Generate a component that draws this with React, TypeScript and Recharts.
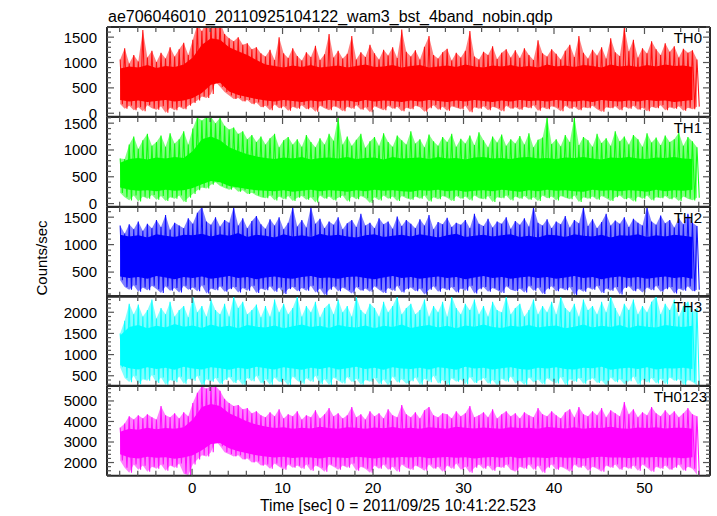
import React from "react";
import { ComposedChart, Area, Line, XAxis, YAxis } from "recharts";

// time grid of the sampled envelopes (sec from trigger)
const T_START = -7.95;
const T_STEP = 0.502;

const X_DOMAIN: [number, number] = [-9.4, 57.24];
const X_TICKS = [-8, -6, -4, -2, 0, 2, 4, 6, 8, 10, 12, 14, 16, 18, 20, 22, 24, 26, 28, 30, 32, 34, 36, 38, 40, 42, 44, 46, 48, 50, 52, 54, 56];
const X_LABELED = [0, 10, 20, 30, 40, 50];

// ---- TH0 ----
const TH0_HI = [
  1060, 1280, 980, 1150, 1020, 1640, 1100, 1230,
  1010, 1190, 1080, 1300, 1120, 1260, 1390, 1150,
  1450, 1750, 1620, 1800, 1800, 1780, 1800, 1560,
  1480, 1420, 1500, 1350, 1380, 1260, 1300, 1180,
  1120, 1250, 1050, 1500, 1180, 1090, 1280, 1130,
  1040, 1200, 1110, 1330, 1050, 1160, 1560, 1100,
  1230, 1080, 1170, 1520, 1060, 1200, 1110, 1350,
  1180, 1060, 1250, 1140, 1300, 1090, 1650, 1210,
  1120, 1240, 1060, 1310, 1520, 1150, 1080, 1200,
  1270, 1040, 1190, 1100, 1230, 1620, 1120, 1060,
  1210, 1150, 1320, 1070, 1190, 1260, 1100, 1240,
  1090, 1280, 1150, 1050, 1440, 1180, 1120, 1260,
  1170, 1060, 1230, 1350, 1110, 1520, 1190, 1080,
  1250, 1140, 1300, 1080, 1480, 1200, 1130, 1700,
  1220, 1450, 1100, 1280, 1180, 1420, 1260, 1150,
  1380, 1210, 1320, 1100, 1270, 1190, 1240, 1060,
];
const TH0_LO = [
  180, 90, 150, 60, 120, 40, 160, 100,
  70, 140, 10, 110, 60, 130, 80, 150,
  200, 250, 330, 300, 380, 620, 520, 420,
  350, 280, 300, 230, 260, 180, 210, 120,
  150, 60, 170, 100, 140, 50, 130, 90,
  160, 80, 120, 30, 150, 100, 60, 140,
  110, 40, 130, 90, 160, 70, 120, 20,
  140, 100, 60, 150, 90, 130, 40, 110,
  80, 150, 120, 30, 100, 160, 70, 130,
  50, 140, 110, 80, 150, 20, 120, 90,
  140, 60, 130, 100, 40, 150, 90, 120,
  70, 130, 100, 160, 50, 120, 80, 140,
  110, 40, 150, 90, 130, 60, 120, 100,
  150, 80, 30, 120, 100, 140, 60, 130,
  90, 150, 70, 110, 40, 130, 100, 160,
  60, 120, 90, 140, 50, 110, 80, 130,
];
const TH0_CORE_HI = [
  880, 920, 900, 950, 890, 930, 910, 960,
  1100, 1350, 1480, 1450, 1300, 1220, 1150, 1050,
  960, 930, 900, 940, 910, 950, 900, 920,
  940, 900, 930, 960, 910, 920, 950, 900,
  930, 950, 900, 920, 940, 910, 960, 920,
  900, 940, 920, 950, 910, 930, 900, 960,
  920, 940, 910, 950, 930, 900, 960, 920,
  940, 910, 950, 920, 960, 930, 940, 910,
];
const TH0_CORE_LO = [
  260, 230, 250, 220, 240, 260, 230, 250,
  300, 400, 560, 600, 430, 360, 320, 280,
  250, 230, 260, 240, 220, 250, 230, 260,
  240, 250, 220, 260, 230, 250, 240, 220,
  250, 230, 260, 240, 220, 250, 230, 260,
  240, 220, 250, 230, 260, 240, 250, 230,
  260, 240, 230, 250, 220, 260, 240, 230,
  250, 230, 260, 240, 250, 220, 240, 260,
];

// ---- TH1 ----
const TH1_HI = [
  840, 830, 1100, 1250, 1020, 1180, 1300, 1080,
  1150, 1270, 1060, 1310, 1120, 1200, 1350, 1100,
  1400, 1610, 1550, 1620, 1620, 1500, 1600, 1450,
  1380, 1420, 1300, 1350, 1200, 1280, 1150, 1250,
  1100, 1220, 1300, 1050, 1180, 1240, 1100, 1200,
  1060, 1280, 1150, 1050, 1220, 1100, 1300, 1170,
  1620, 1100, 1250, 1080, 1190, 1300, 1040, 1160,
  1240, 1080, 1310, 1150, 1060, 1270, 1180, 1100,
  1350, 1120, 1200, 1050, 1290, 1160, 1080, 1240,
  1150, 1300, 1060, 1210, 1120, 1270, 1090, 1330,
  1180, 1050, 1250, 1140, 1290, 1080, 1200, 1120,
  1260, 1100, 1310, 1050, 1190, 1230, 1620, 1110,
  1200, 1070, 1280, 1150, 1620, 1090, 1240, 1180,
  1060, 1300, 1130, 1220, 1080, 1350, 1160, 1250,
  1100, 1280, 1200, 1060, 1310, 1140, 1230, 1090,
  1270, 1150, 1200, 1320, 1080, 1240, 1160, 1050,
];
const TH1_LO = [
  200, 120, 60, 150, 40, 130, 90, 160,
  70, 140, 50, 120, 90, 150, 30, 110,
  180, 250, 300, 280, 350, 400, 330, 290,
  260, 300, 220, 250, 180, 200, 150, 120,
  100, 150, 60, 130, 80, 140, 50, 110,
  140, 70, 120, 20, 150, 90, 130, 60,
  110, 150, 40, 130, 80, 140, 100, 10,
  120, 60, 150, 90, 130, 50, 140, 100,
  70, 130, 90, 150, 40, 120, 80, 140,
  110, 50, 140, 90, 130, 60, 150, 100,
  80, 140, 30, 120, 100, 150, 60, 130,
  90, 140, 70, 120, 50, 150, 100, 130,
  60, 140, 110, 80, 150, 30, 120, 90,
  130, 70, 140, 100, 50, 120, 150, 80,
  110, 40, 130, 90, 150, 60, 120, 100,
  140, 80, 120, 50, 130, 90, 60, 110,
];
const TH1_CORE_HI = [
  760, 830, 850, 820, 860, 840, 870, 850,
  980, 1200, 1250, 1180, 1050, 980, 920, 880,
  850, 830, 860, 840, 870, 820, 850, 860,
  840, 870, 830, 850, 860, 820, 870, 840,
  850, 860, 830, 870, 840, 850, 820, 860,
  870, 840, 850, 830, 860, 870, 840, 850,
  830, 860, 850, 870, 840, 820, 860, 850,
  870, 840, 830, 860, 850, 870, 840, 830,
];
const TH1_CORE_LO = [
  300, 260, 240, 250, 230, 260, 240, 250,
  290, 360, 420, 400, 330, 300, 270, 250,
  240, 230, 250, 220, 240, 260, 230, 250,
  240, 220, 250, 230, 260, 240, 250, 230,
  220, 250, 240, 260, 230, 250, 220, 240,
  250, 230, 260, 240, 220, 250, 230, 260,
  240, 250, 230, 220, 260, 240, 250, 230,
  250, 240, 220, 260, 230, 250, 240, 260,
];

// ---- TH2 ----
const TH2_HI = [
  1350, 1200, 1370, 1280, 1420, 1250, 1380, 1300,
  1450, 1320, 1540, 1270, 1400, 1350, 1300, 1480,
  1380, 1580, 1690, 1420, 1360, 1500, 1330, 1450,
  1400, 1690, 1350, 1480, 1300, 1430, 1520, 1370,
  1290, 1460, 1350, 1500, 1280, 1400, 1690, 1330,
  1450, 1310, 1690, 1380, 1470, 1300, 1420, 1360,
  1500, 1280, 1390, 1450, 1320, 1560, 1350, 1400,
  1300, 1480, 1370, 1420, 1290, 1510, 1340, 1450,
  1380, 1300, 1460, 1350, 1540, 1280, 1410, 1370,
  1490, 1320, 1400, 1360, 1450, 1300, 1560, 1380,
  1340, 1470, 1310, 1420, 1380, 1500, 1290, 1430,
  1360, 1480, 1330, 1690, 1400, 1350, 1460, 1300,
  1420, 1370, 1520, 1310, 1450, 1390, 1690, 1340,
  1460, 1300, 1410, 1560, 1350, 1440, 1380, 1500,
  1320, 1470, 1400, 1350, 1690, 1420, 1360, 1530,
  1390, 1450, 1310, 1480, 1370, 1560, 1400, 1340,
];
const TH2_LO = [
  350, 230, 180, 260, 140, 220, 170, 250,
  190, 120, 240, 160, 210, 130, 250, 180,
  220, 150, 260, 110, 200, 170, 240, 140,
  190, 230, 130, 210, 160, 250, 120, 200,
  170, 240, 140, 220, 100, 190, 230, 150,
  210, 160, 250, 130, 200, 80, 180, 240,
  150, 220, 170, 110, 230, 160, 200, 140,
  240, 180, 120, 210, 160, 250, 130, 190,
  220, 150, 200, 90, 180, 240, 140, 210,
  170, 230, 130, 200, 160, 250, 110, 190,
  230, 140, 210, 170, 120, 240, 180, 150,
  200, 130, 250, 160, 220, 100, 190, 240,
  150, 210, 170, 230, 80, 190, 140, 220,
  180, 250, 120, 200, 160, 230, 90, 210,
  240, 150, 200, 130, 220, 170, 250, 140,
  190, 230, 110, 200, 160, 240, 150, 180,
];
const TH2_CORE_HI = [
  1180, 1150, 1170, 1130, 1190, 1160, 1140, 1180,
  1170, 1200, 1150, 1190, 1160, 1210, 1140, 1180,
  1160, 1130, 1190, 1150, 1170, 1140, 1200, 1160,
  1180, 1150, 1130, 1170, 1190, 1140, 1160, 1180,
  1150, 1190, 1160, 1130, 1170, 1200, 1140, 1160,
  1180, 1150, 1170, 1190, 1140, 1160, 1130, 1180,
  1170, 1140, 1190, 1160, 1150, 1180, 1130, 1170,
  1160, 1190, 1140, 1170, 1150, 1180, 1160, 1140,
];
const TH2_CORE_LO = [
  420, 390, 410, 380, 430, 400, 370, 410,
  390, 420, 380, 400, 430, 390, 410, 370,
  400, 420, 390, 380, 410, 430, 390, 400,
  380, 410, 420, 390, 370, 400, 430, 390,
  410, 380, 400, 420, 390, 410, 370, 400,
  430, 390, 410, 380, 400, 420, 390, 410,
  380, 400, 430, 390, 410, 370, 400, 420,
  390, 410, 380, 400, 420, 390, 410, 380,
];

// ---- TH3 ----
const TH3_HI = [
  1500, 1800, 2200, 1950, 2180, 1900, 2050, 2300,
  1850, 2100, 1950, 2250, 1900, 2050, 2150, 1880,
  2380, 2000, 2150, 1900, 2300, 2050, 1950, 2200,
  1900, 2380, 2100, 2250, 1950, 2050, 2180, 1880,
  2150, 1900, 2300, 2000, 2200, 1950, 2100, 2380,
  1900, 2150, 2000, 2250, 1880, 2100, 2200, 1950,
  2300, 2000, 2150, 1900, 2380, 2050, 1950, 2200,
  2100, 1900, 2250, 2000, 2150, 2380, 1950, 2100,
  2200, 1950, 2050, 2300, 1900, 2150, 2000, 2250,
  1900, 2380, 2100, 1950, 2200, 2050, 2300, 1950,
  2150, 1900, 2250, 2050, 2000, 2380, 1950, 2100,
  2200, 1900, 2050, 2300, 1950, 2150, 2000, 2250,
  1950, 2380, 2100, 2000, 2200, 1900, 2300, 2050,
  2150, 1950, 2250, 2000, 2380, 2100, 1900, 2200,
  2050, 2300, 1950, 2150, 2000, 2250, 2380, 1950,
  2200, 2050, 2300, 1900, 2150, 2250, 2000, 2100,
];
const TH3_LO = [
  700, 450, 350, 500, 300, 420, 380, 520,
  330, 460, 290, 400, 350, 480, 310, 430,
  380, 500, 270, 420, 360, 450, 300, 400,
  470, 330, 410, 280, 450, 370, 500, 320,
  420, 290, 460, 350, 400, 270, 480, 380,
  310, 440, 360, 500, 300, 420, 280, 460,
  390, 320, 470, 350, 430, 290, 400, 360,
  450, 300, 410, 270, 480, 340, 420, 310,
  370, 460, 290, 430, 350, 500, 320, 400,
  280, 440, 360, 410, 300, 470, 330, 390,
  450, 310, 400, 270, 430, 360, 480, 320,
  380, 290, 460, 340, 410, 300, 440, 370,
  320, 470, 280, 420, 360, 450, 310, 400,
  440, 330, 390, 270, 460, 350, 420, 300,
  370, 480, 290, 410, 340, 450, 320, 430,
  300, 460, 380, 420, 280, 400, 350, 270,
];
const TH3_CORE_HI = [
  1450, 1650, 1700, 1620, 1680, 1640, 1720, 1660,
  1690, 1630, 1710, 1650, 1680, 1620, 1700, 1660,
  1640, 1690, 1620, 1670, 1710, 1650, 1680, 1630,
  1700, 1660, 1640, 1690, 1620, 1680, 1650, 1710,
  1630, 1670, 1700, 1640, 1680, 1620, 1690, 1660,
  1710, 1650, 1630, 1680, 1660, 1700, 1640, 1670,
  1690, 1620, 1660, 1710, 1640, 1680, 1650, 1700,
  1630, 1690, 1660, 1640, 1700, 1670, 1650, 1680,
];
const TH3_CORE_LO = [
  750, 680, 650, 700, 660, 690, 640, 710,
  670, 650, 700, 680, 640, 690, 660, 710,
  680, 650, 700, 670, 640, 690, 660, 700,
  650, 680, 710, 660, 690, 640, 700, 670,
  660, 690, 650, 700, 680, 640, 710, 670,
  690, 650, 680, 700, 660, 640, 690, 670,
  700, 660, 650, 690, 680, 710, 640, 670,
  690, 660, 700, 650, 680, 670, 690, 660,
];

// ---- TH0123 ----
const TH0123_HI = [
  3700, 3900, 4250, 4100, 4300, 4150, 4350, 4200,
  4100, 4750, 4300, 4200, 4400, 4150, 4450, 4250,
  4900, 5400, 5728, 5600, 5728, 5728, 5500, 5100,
  4900, 4750, 4800, 4600, 4650, 4400, 4500, 4300,
  4200, 4450, 4250, 4600, 4150, 4350, 4250, 4500,
  4100, 4300, 4200, 4550, 4150, 4350, 4650, 4250,
  4400, 4150, 4300, 4700, 4200, 4350, 4100, 4500,
  4250, 4400, 4150, 4600, 4300, 4200, 4800, 4350,
  4200, 4450, 4150, 4550, 4700, 4300, 4200, 4400,
  4350, 4150, 4500, 4250, 4400, 4750, 4200, 4300,
  4450, 4200, 4600, 4150, 4350, 4500, 4250, 4400,
  4150, 4450, 4300, 4200, 4650, 4350, 4250, 4500,
  4300, 4150, 4450, 4600, 4200, 4700, 4350, 4250,
  4500, 4300, 4650, 4200, 4550, 4400, 4250, 4950,
  4350, 4600, 4200, 4450, 4300, 4700, 4400, 4250,
  4550, 4300, 4500, 4200, 4400, 4650, 4350, 4250,
];
const TH0123_LO = [
  2100, 1750, 1500, 1900, 1650, 1850, 1550, 1800,
  1700, 1900, 1600, 1850, 1750, 1950, 1450, 1380,
  1900, 2150, 2350, 2300, 2500, 3070, 2800, 2500,
  2400, 2300, 2350, 2150, 2200, 2000, 2050, 1850,
  1900, 1700, 1950, 1800, 1650, 1900, 1750, 1850,
  1700, 1900, 1600, 1850, 1750, 1550, 1900, 1800,
  1650, 1850, 1750, 1950, 1600, 1800, 1700, 1500,
  1850, 1700, 1900, 1650, 1800, 1550, 1900, 1750,
  1650, 1850, 1750, 1600, 1900, 1700, 1800, 1550,
  1850, 1700, 1950, 1650, 1800, 1500, 1750, 1900,
  1700, 1850, 1600, 1800, 1750, 1900, 1650, 1550,
  1800, 1700, 1900, 1650, 1850, 1500, 1750, 1900,
  1650, 1800, 1700, 1550, 1900, 1750, 1850, 1600,
  1800, 1700, 1550, 1850, 1750, 1900, 1650, 1800,
  1700, 1850, 1600, 1900, 1750, 1550, 1800, 1700,
  1850, 1650, 1750, 1900, 1600, 1800, 1700, 1400,
];
const TH0123_CORE_HI = [
  3500, 3650, 3600, 3700, 3620, 3680, 3640, 3720,
  4100, 4700, 4850, 4750, 4400, 4200, 4000, 3850,
  3750, 3680, 3720, 3640, 3700, 3660, 3740, 3680,
  3650, 3720, 3690, 3640, 3710, 3670, 3730, 3660,
  3700, 3640, 3720, 3680, 3650, 3740, 3690, 3660,
  3710, 3670, 3640, 3720, 3680, 3700, 3650, 3730,
  3690, 3660, 3720, 3640, 3700, 3680, 3740, 3670,
  3650, 3710, 3680, 3720, 3660, 3700, 3690, 3640,
];
const TH0123_CORE_LO = [
  2400, 2250, 2200, 2280, 2230, 2260, 2180, 2240,
  2350, 2600, 2900, 2950, 2700, 2550, 2450, 2350,
  2300, 2250, 2280, 2220, 2260, 2240, 2200, 2270,
  2250, 2220, 2280, 2240, 2200, 2260, 2230, 2270,
  2240, 2280, 2210, 2250, 2270, 2230, 2260, 2200,
  2250, 2270, 2230, 2280, 2210, 2260, 2240, 2220,
  2270, 2230, 2250, 2200, 2260, 2280, 2240, 2250,
  2220, 2260, 2240, 2270, 2230, 2250, 2210, 2260,
];

// y tick labels
const TH0_MAJOR = [0, 500, 1000, 1500];
const TH1_MAJOR = [0, 500, 1000, 1500];
const TH2_MAJOR = [500, 1000, 1500];
const TH3_MAJOR = [500, 1000, 1500, 2000];
const TH0123_MAJOR = [2000, 3000, 4000, 5000];

const TITLE = "ae706046010_20110925104122_wam3_bst_4band_nobin.qdp";
const X_TITLE = "Time [sec] 0 = 2011/09/25 10:41:22.523";
const Y_TITLE = "Counts/sec";

const FONT = "'Liberation Sans', Arial, Helvetica, sans-serif";
const FRAME = "#2a2a2a";
const TICK = "#555";
const PLOT_TOP = 27;
const PANEL_H = 89.8;
const LEFT = 107;
const W = 717;

const range = (a: number, b: number, s: number) => {
  const out: number[] = [];
  for (let v = a; v <= b; v += s) out.push(v);
  return out;
};

// each sample gives a peak row (hi) and a trough row (lo) half a step later,
// so the trace swings across the band like the unbinned light curve
const rows = (hi: number[], lo: number[], cHi: number[], cLo: number[]) =>
  hi.flatMap((h, i) => {
    const t = T_START + i * T_STEP;
    const core = i % 2 === 0 && i / 2 < cHi.length ? [cLo[i / 2], cHi[i / 2]] : null;
    return [
      { t, z: h, ext: [lo[i], h], core },
      { t: t + T_STEP / 2, z: lo[i], ext: null, core: null },
    ];
  });

const PANELS = [
  { name: "TH0", color: "#ff0000", data: rows(TH0_HI, TH0_LO, TH0_CORE_HI, TH0_CORE_LO), domain: [-70, 1700], major: TH0_MAJOR, ticks: range(0, 1700, 100), labelX: 702, labelDy: 15.5 },
  { name: "TH1", color: "#00ff00", data: rows(TH1_HI, TH1_LO, TH1_CORE_HI, TH1_CORE_LO), domain: [-60, 1615], major: TH1_MAJOR, ticks: range(0, 1600, 100), labelX: 702, labelDy: 16 },
  { name: "TH2", color: "#0000ff", data: rows(TH2_HI, TH2_LO, TH2_CORE_HI, TH2_CORE_LO), domain: [50, 1685], major: TH2_MAJOR, ticks: range(100, 1600, 100), labelX: 702, labelDy: 16 },
  { name: "TH3", color: "#00ffff", data: rows(TH3_HI, TH3_LO, TH3_CORE_HI, TH3_CORE_LO), domain: [263, 2384], major: TH3_MAJOR, ticks: range(300, 2300, 100), labelX: 702, labelDy: 15.5 },
  { name: "TH0123", color: "#ff00ff", data: rows(TH0123_HI, TH0123_LO, TH0123_CORE_HI, TH0123_CORE_LO), domain: [1354, 5728], major: TH0123_MAJOR, ticks: range(1400, 5600, 200), labelX: 707, labelDy: 16 },
];

function Panel({ p, idx }: { p: (typeof PANELS)[number]; idx: number }) {
  const last = idx === PANELS.length - 1;
  const topH = 10;
  const botH = last ? 30 : 10;
  const h = PANEL_H + topH + botH;
  const top = PLOT_TOP + idx * PANEL_H - topH;

  const bottomTick = (props: any) => {
    const { x, y, payload } = props;
    const major = payload.value % 10 === 0;
    return (
      <g>
        <line x1={x} x2={x} y1={y} y2={y - (major ? 7 : 5)} stroke={TICK} strokeWidth={1.2} />
        {last && X_LABELED.includes(payload.value) && (
          <text x={x} y={y + 17.5} textAnchor="middle" fontSize={15} fontFamily={FONT} fill="#000">
            {payload.value}
          </text>
        )}
      </g>
    );
  };
  const topTick = (props: any) => {
    const { x, y, payload } = props;
    const major = payload.value % 10 === 0;
    return <line x1={x} x2={x} y1={y} y2={y + (major ? 7 : 5)} stroke={TICK} strokeWidth={1.2} />;
  };
  const leftTick = (props: any) => {
    const { x, y, payload } = props;
    const major = p.major.includes(payload.value);
    return (
      <g>
        <line x1={x} x2={x + (major ? 7 : 4)} y1={y} y2={y} stroke={TICK} strokeWidth={1.2} />
        {major && (
          <text x={x - 10} y={y + 5.4} textAnchor="end" fontSize={15} fontFamily={FONT} fill="#000">
            {payload.value}
          </text>
        )}
      </g>
    );
  };
  const rightTick = (props: any) => {
    const { x, y, payload } = props;
    const major = p.major.includes(payload.value);
    return <line x1={x} x2={x - (major ? 7 : 4)} y1={y} y2={y} stroke={TICK} strokeWidth={1.2} />;
  };

  return (
    <div style={{ position: "absolute", left: 0, top, width: W, height: h }}>
      <ComposedChart width={W} height={h} data={p.data} margin={{ top: 0, right: 0, bottom: 0, left: 0 }}>
        <XAxis xAxisId="b" dataKey="t" type="number" domain={X_DOMAIN} allowDataOverflow ticks={X_TICKS} interval={0}
          height={botH} tickSize={0} tickMargin={0} tickLine={false} axisLine={{ stroke: FRAME, strokeWidth: 2 }} tick={bottomTick} />
        <XAxis xAxisId="t" orientation="top" dataKey="t" type="number" domain={X_DOMAIN} allowDataOverflow ticks={X_TICKS} interval={0}
          height={topH} tickSize={0} tickMargin={0} tickLine={false} axisLine={{ stroke: FRAME, strokeWidth: 2 }} tick={topTick} />
        <YAxis yAxisId="l" type="number" domain={p.domain} allowDataOverflow ticks={p.ticks} interval={0}
          width={LEFT} tickSize={0} tickMargin={0} tickLine={false} axisLine={{ stroke: FRAME, strokeWidth: 2 }} tick={leftTick} />
        <YAxis yAxisId="r" orientation="right" type="number" domain={p.domain} allowDataOverflow ticks={p.ticks} interval={0}
          width={7} tickSize={0} tickMargin={0} tickLine={false} axisLine={{ stroke: FRAME, strokeWidth: 2 }} tick={rightTick} />
        <Area xAxisId="b" yAxisId="l" dataKey="ext" type="linear" connectNulls stroke="none"
          fill={p.color} fillOpacity={0.5} dot={false} activeDot={false} isAnimationActive={false} />
        <Area xAxisId="b" yAxisId="l" dataKey="core" type="linear" connectNulls stroke="none"
          fill={p.color} fillOpacity={1} dot={false} activeDot={false} isAnimationActive={false} />
        <Line xAxisId="b" yAxisId="l" dataKey="z" type="linear" stroke={p.color} strokeOpacity={0.9} strokeWidth={1.1}
          dot={false} activeDot={false} isAnimationActive={false} />
      </ComposedChart>
    </div>
  );
}

export default function App() {
  return (
    <div style={{ position: "absolute", left: 0, top: 0, width: W, height: 516, background: "#fff", fontFamily: FONT }}>
      {PANELS.map((p, i) => (
        <Panel key={p.name} p={p} idx={i} />
      ))}
      <svg width={W} height={516} style={{ position: "absolute", left: 0, top: 0, pointerEvents: "none" }}>
        <text x={108} y={21.5} fontSize={16} fontFamily={FONT} fill="#000">{TITLE}</text>
        {PANELS.map((p, i) => (
          <text key={p.name} x={p.labelX} y={PLOT_TOP + i * PANEL_H + p.labelDy} textAnchor="end" fontSize={15} fontFamily={FONT} fill="#000">
            {p.name}
          </text>
        ))}
        <text transform="translate(46.5,258) rotate(-90)" textAnchor="middle" fontSize={15} fontFamily={FONT} fill="#000">{Y_TITLE}</text>
        <text x={398} y={510.5} textAnchor="middle" fontSize={15.7} fontFamily={FONT} fill="#000">{X_TITLE}</text>
      </svg>
    </div>
  );
}
